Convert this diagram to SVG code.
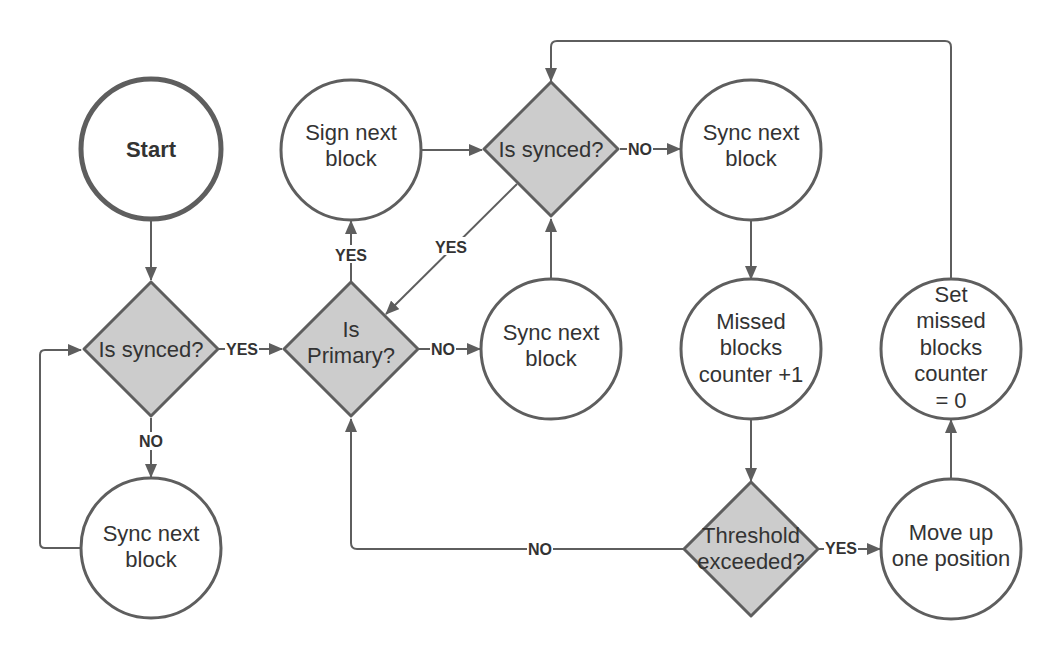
<svg xmlns="http://www.w3.org/2000/svg" width="1061" height="660" viewBox="0 0 1061 660">
<style>
.c{fill:#fff;stroke:#5e5e5e;stroke-width:3}
.d{fill:#cccccc;stroke:#5e5e5e;stroke-width:3;stroke-linejoin:round}
.t{font-family:"Liberation Sans",Arial,sans-serif;font-size:22px;fill:#333;text-anchor:middle}
.e{fill:none;stroke:#5e5e5e;stroke-width:2}
.l{font-family:"Liberation Sans",Arial,sans-serif;font-size:16px;font-weight:bold;fill:#333;text-anchor:middle}
.lb{fill:#fff}
</style>
<defs>
<marker id="a" markerWidth="14" markerHeight="12" refX="13" refY="6" orient="auto" markerUnits="userSpaceOnUse">
<path d="M0,0 L14,6 L0,12 Z" fill="#5e5e5e"/>
</marker>
</defs>
<rect width="1061" height="660" fill="#fff"/>
<g id="connectors">
<path class="e" d="M151,220 V280" marker-end="url(#a)"/>
<path class="e" d="M151,418 V477" marker-end="url(#a)"/>
<path class="e" d="M81,548 H45 Q40,548 40,543 V355 Q40,350 45,350 H81" marker-end="url(#a)"/>
<path class="e" d="M219,349 H282" marker-end="url(#a)"/>
<path class="e" d="M351,282 V221" marker-end="url(#a)"/>
<path class="e" d="M419,349 H480" marker-end="url(#a)"/>
<path class="e" d="M422,150 H482" marker-end="url(#a)"/>
<path class="e" d="M517,184 L386,314" marker-end="url(#a)"/>
<path class="e" d="M551,279 V219" marker-end="url(#a)"/>
<path class="e" d="M620,149 H680" marker-end="url(#a)"/>
<path class="e" d="M751,220 V279" marker-end="url(#a)"/>
<path class="e" d="M751,420 V481" marker-end="url(#a)"/>
<path class="e" d="M819,549 H880" marker-end="url(#a)"/>
<path class="e" d="M951,479 V420" marker-end="url(#a)"/>
<path class="e" d="M951,279 V47 Q951,41 945,41 H557 Q551,41 551,47 V81" marker-end="url(#a)"/>
<path class="e" d="M683,549 H357 Q351,549 351,543 V419" marker-end="url(#a)"/>
<g id="labels">
<rect class="lb" x="225" y="340" width="34" height="18"/>
<text class="l" x="242" y="355">YES</text>
<rect class="lb" x="138" y="432" width="26" height="18"/>
<text class="l" x="151" y="447">NO</text>
<rect class="lb" x="334" y="245" width="34" height="18"/>
<text class="l" x="351" y="261">YES</text>
<rect class="lb" x="430" y="340" width="26" height="18"/>
<text class="l" x="443" y="355">NO</text>
<rect class="lb" x="434" y="237" width="34" height="18"/>
<text class="l" x="451" y="253">YES</text>
<rect class="lb" x="627" y="140" width="26" height="18"/>
<text class="l" x="640" y="155">NO</text>
<rect class="lb" x="824" y="539" width="34" height="18"/>
<text class="l" x="841" y="554">YES</text>
<rect class="lb" x="527" y="540" width="26" height="18"/>
<text class="l" x="540" y="555">NO</text>
</g>
</g>
<g id="start">
<circle cx="151" cy="149" r="70" fill="#fff" stroke="#5e5e5e" stroke-width="5"/>
<text class="t" x="151" y="157" font-weight="bold">Start</text>
</g>
<g id="synced1">
<path class="d" d="M151,282 L218,349 L151,416 L84,349 Z"/>
<text class="t" x="151" y="357">Is synced?</text>
</g>
<g id="sync1">
<circle class="c" cx="151" cy="548" r="70"/>
<text class="t" x="151" y="541">Sync next</text>
<text class="t" x="151" y="567">block</text>
</g>
<g id="primary">
<path class="d" d="M351,282 L418,349 L351,416 L284,349 Z"/>
<text class="t" x="351" y="337">Is</text>
<text class="t" x="351" y="363">Primary?</text>
</g>
<g id="sign">
<circle class="c" cx="351" cy="150" r="70"/>
<text class="t" x="351" y="140">Sign next</text>
<text class="t" x="351" y="166">block</text>
</g>
<g id="synced2">
<path class="d" d="M551,82 L618,149 L551,216 L484,149 Z"/>
<text class="t" x="551" y="157">Is synced?</text>
</g>
<g id="sync2">
<circle class="c" cx="551" cy="349" r="70"/>
<text class="t" x="551" y="340">Sync next</text>
<text class="t" x="551" y="366">block</text>
</g>
<g id="sync3">
<circle class="c" cx="751" cy="150" r="70"/>
<text class="t" x="751" y="140">Sync next</text>
<text class="t" x="751" y="166">block</text>
</g>
<g id="missed">
<circle class="c" cx="751" cy="349" r="70"/>
<text class="t" x="751" y="329">Missed</text>
<text class="t" x="751" y="355">blocks</text>
<text class="t" x="751" y="382">counter +1</text>
</g>
<g id="threshold">
<path class="d" d="M751,482 L818,549 L751,616 L684,549 Z"/>
<text class="t" x="751" y="543">Threshold</text>
<text class="t" x="751" y="569">exceeded?</text>
</g>
<g id="moveup">
<circle class="c" cx="951" cy="549" r="70"/>
<text class="t" x="951" y="540">Move up</text>
<text class="t" x="951" y="566">one position</text>
</g>
<g id="reset">
<circle class="c" cx="951" cy="349" r="70"/>
<text class="t" x="951" y="302">Set</text>
<text class="t" x="951" y="328">missed</text>
<text class="t" x="951" y="355">blocks</text>
<text class="t" x="951" y="381">counter</text>
<text class="t" x="951" y="408">= 0</text>
</g>
</svg>
